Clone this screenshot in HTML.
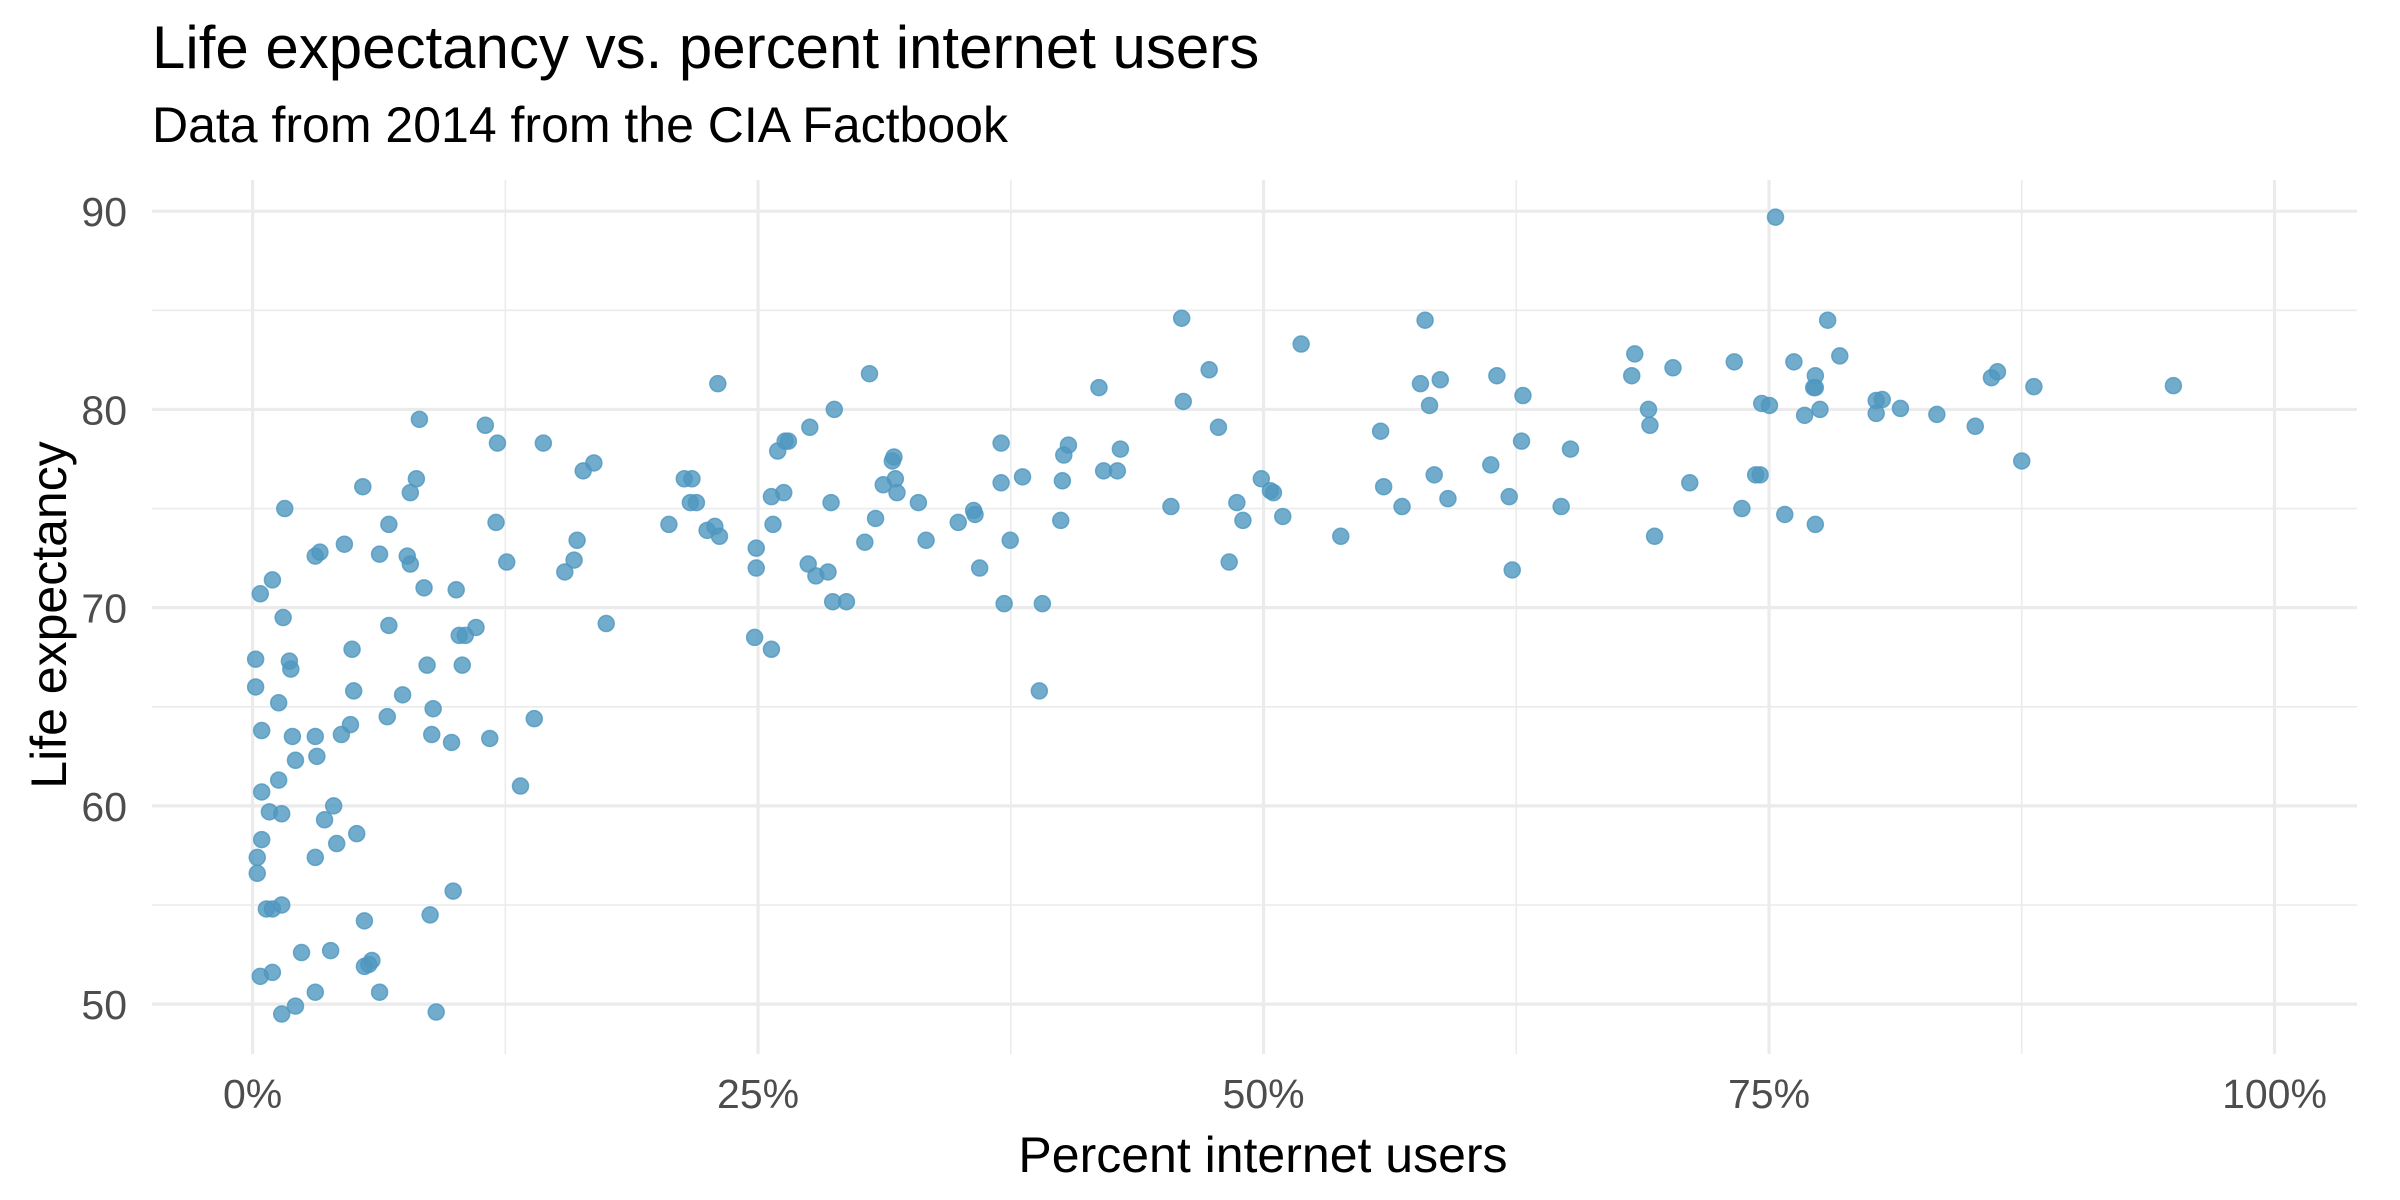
<!DOCTYPE html>
<html><head><meta charset="utf-8"><style>
html,body{margin:0;padding:0;background:#fff}
svg{display:block}
text{font-family:"Liberation Sans",Arial,sans-serif}
</style></head><body>
<svg id="chart" width="2400" height="1200" viewBox="0 0 2400 1200" xmlns="http://www.w3.org/2000/svg">
<text x="152" y="68" font-size="60" fill="#000">Life expectancy vs. percent internet users</text>
<text x="152" y="142" font-size="50" fill="#000">Data from 2014 from the CIA Factbook</text>
<g id="grid"></g>
<g id="points"></g>
<g id="axes"></g>
<text x="1263" y="1172" font-size="50" text-anchor="middle" fill="#000">Percent internet users</text>
<text transform="translate(66,615) rotate(-90)" font-size="50" text-anchor="middle" fill="#000">Life expectancy</text>
</svg>
<script>
const xTicks = [0, 25, 50, 75, 100];
const xTickLabels = ["0%", "25%", "50%", "75%", "100%"];
const yTicks = [50, 60, 70, 80, 90];
const yTickLabels = ["50", "60", "70", "80", "90"];
const internetPct = [
0.15,0.15,0.38,0.23,0.23,0.45,0.45,0.45,0.38,0.98,1.44,2.12,0.68,0.98,1.44,0.83,1.44,1.29,1.29,1.51,0.98,1.59,1.82,1.89,1.97,2.12,2.42,3.10,3.18,3.10,3.33,3.10,3.56,4.01,4.16,4.39,4.54,4.84,4.92,5.00,5.15,5.45,5.53,5.75,5.90,5.53,3.86,3.10,6.28,6.28,6.66,6.74,6.74,7.42,7.65,7.80,7.80,8.10,8.25,8.48,8.63,8.78,8.86,8.93,9.08,9.84,9.92,10.07,10.22,10.37,10.52,11.05,11.51,11.73,12.04,12.11,12.57,13.25,13.93,14.38,15.44,15.90,16.05,16.35,16.88,17.49,
20.59,21.35,21.73,21.65,21.95,22.48,22.86,23.01,23.09,24.83,24.91,24.91,25.66,25.74,25.66,25.97,26.27,26.34,26.50,27.48,27.56,27.86,28.46,28.61,28.69,28.77,29.37,30.28,30.51,30.81,31.19,31.64,31.72,31.79,31.87,32.93,33.31,34.90,35.66,35.73,35.96,37.02,37.02,37.17,37.47,38.08,39.06,38.91,39.97,40.05,40.12,40.35,41.86,42.09,42.77,42.92,45.42,45.95,46.03,47.31,47.77,48.30,48.68,48.98,49.89,50.34,50.49,50.95,51.86,53.82,55.79,55.94,56.85,57.76,57.99,58.21,58.44,58.74,59.12,61.24,61.54,62.15,62.30,62.76,62.83,64.72,65.18,
68.21,68.36,69.04,69.11,69.34,70.25,71.08,73.28,73.66,74.34,74.56,74.64,75.02,75.32,75.78,76.23,76.76,77.21,77.29,77.29,77.29,77.52,77.90,78.50,
80.3,80.6,80.3,81.5,83.3,85.2,86.0,86.3,88.1,95.0,87.5
];
const lifeExp = [
67.4,66.0,70.7,57.4,56.6,58.3,60.7,63.8,51.4,51.6,49.5,49.9,54.8,54.8,55.0,59.7,59.6,61.3,65.2,69.5,71.4,75.0,67.3,66.9,63.5,62.3,52.6,63.5,62.5,72.6,72.8,57.4,59.3,60.0,58.1,63.6,73.2,64.1,67.9,65.8,58.6,76.1,51.9,52.0,52.2,54.2,52.7,50.6,72.7,50.6,64.5,69.1,74.2,65.6,72.6,72.2,75.8,76.5,79.5,71.0,67.1,54.5,63.6,64.9,49.6,63.2,55.7,70.9,68.6,67.1,68.6,69.0,79.2,63.4,74.3,78.3,72.3,61.0,64.4,78.3,71.8,72.4,73.4,76.9,77.3,69.2,
74.2,76.5,76.5,75.3,75.3,73.9,74.1,81.3,73.6,68.5,72.0,73.0,75.6,74.2,67.9,77.9,75.8,78.4,78.4,72.2,79.1,71.6,71.8,75.3,70.3,80.0,70.3,73.3,81.8,74.5,76.2,77.4,77.6,76.5,75.8,75.3,73.4,74.3,74.9,74.7,72.0,76.3,78.3,70.2,73.4,76.6,70.2,65.8,74.4,76.4,77.7,78.2,81.1,76.9,76.9,78.0,75.1,84.6,80.4,82.0,79.1,72.3,75.3,74.4,76.5,75.9,75.8,74.6,83.3,73.6,78.9,76.1,75.1,81.3,84.5,80.2,76.7,81.5,75.5,77.2,81.7,75.6,71.9,78.4,80.7,75.1,78.0,
81.7,82.8,80.0,79.2,73.6,82.1,76.3,82.4,75.0,76.7,76.7,80.3,80.2,89.7,74.7,82.4,79.7,81.1,81.7,81.1,74.2,80.0,84.5,82.7,
80.45,80.5,79.8,80.05,79.75,79.15,81.6,81.9,81.15,81.2,77.4
];
const NS = "http://www.w3.org/2000/svg";
const X0 = 252.6, X1 = 2274.5, Y50 = 1004.1, Y90 = 211.2;
const PL = 152, PR = 2357, PT = 180, PB = 1054;
function sx(v){ return X0 + (v - 0) / 100 * (X1 - X0); }
function sy(v){ return Y50 + (v - 50) / 40 * (Y90 - Y50); }
function mk(tag, attrs, parent){ const e = document.createElementNS(NS, tag); for (const k in attrs) e.setAttribute(k, attrs[k]); parent.appendChild(e); return e; }
const grid = document.getElementById('grid');
const axes = document.getElementById('axes');
const pts = document.getElementById('points');
for (let i = 0; i < xTicks.length - 1; i++) {
  const m = (xTicks[i] + xTicks[i+1]) / 2;
  const l = mk('line', {x1: sx(m), x2: sx(m), y1: PT, y2: PB, stroke: '#ebebeb', 'stroke-width': 1.6}, grid);
  
  
}
for (let i = 0; i < yTicks.length - 1; i++) {
  const m = (yTicks[i] + yTicks[i+1]) / 2;
  const l = mk('line', {x1: PL, x2: PR, y1: sy(m), y2: sy(m), stroke: '#ebebeb', 'stroke-width': 1.6}, grid);
  
  
}
xTicks.forEach((t, i) => {
  const l = mk('line', {x1: sx(t), x2: sx(t), y1: PT, y2: PB, stroke: '#ebebeb', 'stroke-width': 3.2}, grid);
  
  
  const tx = mk('text', {x: sx(t), y: 1108, 'font-size': 41, 'text-anchor': 'middle', fill: '#4d4d4d'}, axes);
  tx.textContent = xTickLabels[i];
  
  
});
yTicks.forEach((t, i) => {
  const l = mk('line', {x1: PL, x2: PR, y1: sy(t), y2: sy(t), stroke: '#ebebeb', 'stroke-width': 3.2}, grid);
  
  
  const tx = mk('text', {x: 127, y: sy(t) + 15, 'font-size': 41, 'text-anchor': 'end', fill: '#4d4d4d'}, axes);
  tx.textContent = yTickLabels[i];
  
  
});
internetPct.forEach((v, i) => {
  const c = mk('circle', {cx: sx(v), cy: sy(lifeExp[i]), r: 8, fill: '#4f97bf', 'fill-opacity': 0.8, stroke: '#4f97bf', 'stroke-opacity': 0.8, 'stroke-width': 1.5}, pts);
  
  
});
</script>
</body></html>
